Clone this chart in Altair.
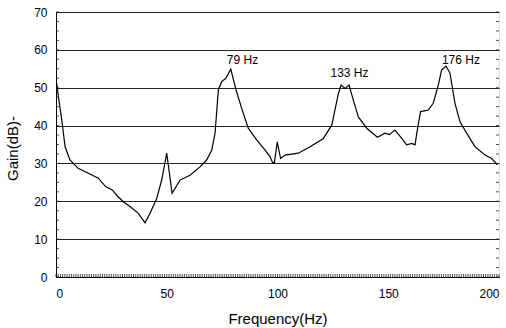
import altair as alt
import pandas as pd

freq = [0.3, 1.5, 2.6, 4.1, 6.3, 10, 15.3, 19.1, 22.4, 25.4, 27.7, 30.5, 33.4, 37.2, 40.2,
        42.4, 45.5, 47.7, 50.0, 52.4, 56.0, 60.5, 65, 68, 70.3, 71.8, 73.3, 74.8, 76.7,
        78.9, 81.3, 83.8, 86.8, 90.6, 94.4, 96.6, 97.8, 98.6, 99.9, 101.4, 103.4, 109.4,
        114.7, 120.7, 124.5, 127.5, 128.7, 130.5, 132.3, 134.2, 136.5, 140.3, 145.1, 148.5,
        150.5, 153, 156.1, 158.3, 160.6, 162.1, 163.1, 164.6, 168.1, 170.3, 172.6, 174.1,
        176.1, 177.9, 180.1, 182.4, 185.4, 189.2, 193.7, 196.7, 199.3]
gain = [51.2, 45.9, 41.5, 34.4, 30.9, 28.7, 27.2, 26.1, 23.9, 23.0, 21.4, 19.8, 18.6, 16.8, 14.3,
        16.8, 20.8, 25.6, 32.7, 22.1, 25.6, 26.9, 29.1, 30.9, 33.5, 37.9, 49.4, 51.6, 52.5,
        54.9, 49.4, 44.6, 39.3, 36.2, 33.5, 31.8, 30.2, 30.2, 35.7, 31.3, 32.2, 32.7,
        34.4, 36.6, 40.1, 48.5, 50.7, 49.8, 50.7, 46.8, 42.3, 39.3, 36.9, 38.0,
        37.6, 38.8, 36.6, 34.9, 35.3, 34.9, 38.8, 43.7, 44.1, 45.9, 50.7, 54.7,
        55.7, 53.8, 45.9, 41.0, 38.0, 34.4, 32.2, 31.3, 29.6]

peak_labels = ["79 Hz", "133 Hz", "176 Hz"]
peak_label_x = [84.2, 132.5, 182.8]
peak_label_y = [56.3, 52.8, 56.3]

x_ticks = [0, 50, 100, 150, 200]
y_ticks = [0, 10, 20, 30, 40, 50, 60, 70]
minor_x = list(range(0, 201))
minor_y = [v * 2.5 for v in range(0, 29)]

FONT = "Liberation Sans"
W, H = 443, 265

curve = pd.DataFrame({"f": freq, "g": gain})
labels = pd.DataFrame({"t": peak_labels, "f": peak_label_x, "g": peak_label_y})

xs = alt.Scale(domain=[0, 200], nice=False, zero=False)
ys = alt.Scale(domain=[0, 70], nice=False)

xaxis = alt.Axis(values=x_ticks, grid=False, tickSize=0, labelPadding=11,
                 labelOverlap=False,
                 labelFont=FONT, labelFontSize=12, labelColor="black",
                 titleFont=FONT, titleFontSize=15, titleFontWeight="normal",
                 titleColor="black", titleY=34, titleBaseline="top",
                 domainColor="black")
yaxis = alt.Axis(values=y_ticks, grid=True, gridColor="black", gridOpacity=0.85,
                 gridWidth=1, tickSize=0, labelPadding=9, labelOverlap=False,
                 labelFont=FONT, labelFontSize=12, labelColor="black",
                 titleFont=FONT, titleFontSize=15, titleFontWeight="normal",
                 titleColor="black", titleX=-44, titleY=136, titleAngle=-90,
                 titleAlign="center", titleBaseline="middle",
                 domainColor="black")
XT = "Frequency(Hz)"
YT = "Gain(dB)-"

line = alt.Chart(curve).mark_line(color="black", strokeWidth=1.2).encode(
    x=alt.X("f:Q", scale=xs, title=XT, axis=xaxis),
    y=alt.Y("g:Q", scale=ys, title=YT, axis=yaxis),
)

text = alt.Chart(labels).mark_text(font=FONT, fontSize=12, color="black",
                                   baseline="alphabetic", align="center").encode(
    x=alt.X("f:Q", scale=xs, title=XT, axis=xaxis),
    y=alt.Y("g:Q", scale=ys, title=YT, axis=yaxis), text="t:N")

mx = alt.Chart(pd.DataFrame({"f": minor_x})).mark_rule(color="#222", strokeWidth=0.8).encode(
    x=alt.X("f:Q", scale=xs, title=XT, axis=xaxis), y=alt.value(H), y2=alt.value(H - 3))

my_r = alt.Chart(pd.DataFrame({"g": minor_y})).mark_rule(color="#222", strokeWidth=0.8).encode(
    y=alt.Y("g:Q", scale=ys, title=YT, axis=yaxis), x=alt.value(W), x2=alt.value(W - 3))
my_l = alt.Chart(pd.DataFrame({"g": minor_y})).mark_rule(color="#222", strokeWidth=0.8).encode(
    y=alt.Y("g:Q", scale=ys, title=YT, axis=yaxis), x=alt.value(0), x2=alt.value(3))

chart = alt.layer(line, mx, my_r, my_l, text).properties(
    width=W, height=H,
    autosize=alt.AutoSizeParams(type="none"),
    padding={"left": 56, "top": 12, "right": 7, "bottom": 51},
).configure_view(stroke="black", strokeWidth=1.2).configure(background="white")

chart.save("out.html", embed_options={"renderer": "svg", "actions": False})
